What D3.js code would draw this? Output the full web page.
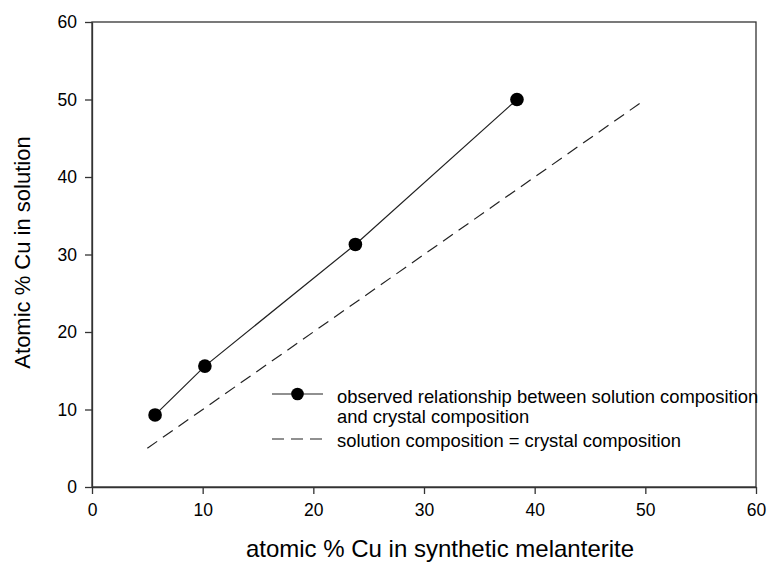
<!DOCTYPE html>
<html>
<head>
<meta charset="utf-8">
<script src="https://cdn.jsdelivr.net/npm/d3@7"></script>
<style>
  body { margin: 0; background: #fff; }
  text { font-family: "Liberation Sans", Arial, sans-serif; fill: #000; }
</style>
</head>
<body>
<div id="chart"></div>
<script>
// observed points: crystal composition (x) vs solution composition (y)
var obs_x = [5.7, 10.2, 23.8, 38.4];
var obs_y = [9.3, 15.6, 31.3, 50.0];
// 1:1 reference line
var ref_x = [5, 50];
var ref_y = [5, 50];
var x_ticks = [0, 10, 20, 30, 40, 50, 60];
var y_ticks = [0, 10, 20, 30, 40, 50, 60];
var legend_labels = ['observed relationship between solution composition', 'and crystal composition', 'solution composition = crystal composition'];

var width = 769, height = 565;
var margin = { top: 22, right: 13, bottom: 78, left: 92 };
var plot_w = width - margin.left - margin.right;
var plot_h = height - margin.top - margin.bottom;

var svg = d3.select('#chart').append('svg')
    .attr('width', width)
    .attr('height', height);

var g = svg.append('g')
    .attr('transform', `translate(${margin.left}, ${margin.top})`);

var x = d3.scaleLinear().domain([0, 60]).range([0, plot_w]);
var y = d3.scaleLinear().domain([0, 60]).range([plot_h, 0]);

// frame
g.append('rect')
    .attr('x', 0).attr('y', 0)
    .attr('width', plot_w).attr('height', plot_h)
    .attr('fill', 'none')
    .attr('stroke', '#333')
    .attr('stroke-width', 1.3);

var xaxis = g.append('g')
    .attr('transform', `translate(0, ${plot_h})`)
    .call(d3.axisBottom(x).tickValues(x_ticks).tickSize(7).tickPadding(10).tickSizeOuter(0));
var yaxis = g.append('g')
    .call(d3.axisLeft(y).tickValues(y_ticks).tickSize(7).tickPadding(8).tickSizeOuter(0));

[xaxis, yaxis].forEach(function(a) {
    a.select('.domain').attr('stroke', '#333').attr('stroke-width', 1.3);
    a.selectAll('.tick line').attr('stroke', '#333').attr('stroke-width', 1.3);
    a.selectAll('.tick text')
        .style('font-family', '"Liberation Sans", Arial, sans-serif')
        .style('font-size', '17.5px')
        .attr('fill', '#000');
});

var ref_data = ref_x.map(function(d, i) { return { x: d, y: ref_y[i] }; });
var obs_data = obs_x.map(function(d, i) { return { x: d, y: obs_y[i] }; });

var line = d3.line()
    .x(function(d) { return x(d.x); })
    .y(function(d) { return y(d.y); });

// reference dashed line
g.append('path')
    .datum(ref_data)
    .attr('d', line)
    .attr('fill', 'none')
    .attr('stroke', '#222')
    .attr('stroke-width', 1.2)
    .attr('stroke-dasharray', '12,7');

g.append('path')
    .datum(obs_data)
    .attr('d', line)
    .attr('fill', 'none')
    .attr('stroke', '#222')
    .attr('stroke-width', 1.2);

g.selectAll('circle.obs').data(obs_data).enter()
    .append('circle')
    .attr('class', 'obs')
    .attr('cx', function(d) { return x(d.x); })
    .attr('cy', function(d) { return y(d.y); })
    .attr('r', 6.8)
    .attr('fill', '#000');

// legend
var legend = svg.append('g').attr('transform', 'translate(272, 394)');
legend.append('line')
    .attr('x1', 0).attr('x2', 51).attr('y1', 0).attr('y2', 0)
    .attr('stroke', '#222').attr('stroke-width', 1.2);
legend.append('circle')
    .attr('cx', 25.5).attr('cy', 0).attr('r', 6.3)
    .attr('fill', '#000');
legend.append('line')
    .attr('x1', 0).attr('x2', 51).attr('y1', 45).attr('y2', 45)
    .attr('stroke', '#222').attr('stroke-width', 1.2)
    .attr('stroke-dasharray', '12,7');
legend.selectAll('text.lbl').data(legend_labels).enter()
    .append('text')
    .attr('class', 'lbl')
    .attr('x', 65)
    .attr('y', function(d, i) { return [9, 29, 53][i]; })
    .style('font-size', '18.4px')
    .text(function(d) { return d; });

// axis titles
svg.append('text')
    .attr('x', 440)
    .attr('y', 557)
    .attr('text-anchor', 'middle')
    .style('font-size', '24px')
    .text('atomic % Cu in synthetic melanterite');

svg.append('text')
    .attr('transform', `translate(30, ${margin.top + plot_h / 2 - 2}) rotate(-90)`)
    .attr('text-anchor', 'middle')
    .style('font-size', '22px')
    .text('Atomic % Cu in solution');
</script>
</body>
</html>
